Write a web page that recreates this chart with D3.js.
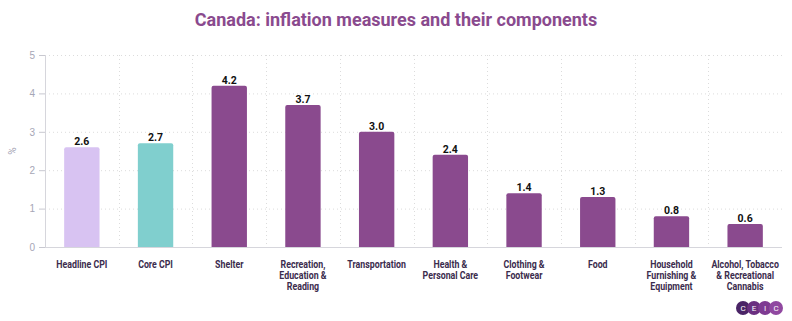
<!DOCTYPE html>
<html>
<head>
<meta charset="utf-8">
<script src="https://cdn.jsdelivr.net/npm/d3@7"></script>
<style>
  body { margin: 0; background: #fff; }
  svg { font-family: Roboto, "Noto Sans", sans-serif; }
</style>
</head>
<body>
<div id="chart"></div>
<script>
// Canada CPI components, y/y %
var categories = ["Headline CPI", "Core CPI", "Shelter", "Recreation, Education & Reading",
  "Transportation", "Health & Personal Care", "Clothing & Footwear", "Food",
  "Household Furnishing & Equipment", "Alcohol, Tobacco & Recreational Cannabis"];
var values = [2.6, 2.7, 4.2, 3.7, 3.0, 2.4, 1.4, 1.3, 0.8, 0.6];
var labelLines = [["Headline CPI"], ["Core CPI"], ["Shelter"], ["Recreation,", "Education &", "Reading"],
  ["Transportation"], ["Health &", "Personal Care"], ["Clothing &", "Footwear"], ["Food"],
  ["Household", "Furnishing &", "Equipment"], ["Alcohol, Tobacco", "& Recreational", "Cannabis"]];
var yTicks = [0, 1, 2, 3, 4, 5];

var width = 792,
    height = 321,
    margin = {top: 55, right: 10, bottom: 74, left: 45};

var svg = d3.select("#chart")
  .append("svg")
  .attr("width", width)
  .attr("height", height);

svg.append("text")
  .attr("x", 396)
  .attr("y", 26)
  .attr("text-anchor", "middle")
  .attr("font-size", 18)
  .attr("font-weight", 700)
  .attr("fill", "#8a4a8e")
  .text("Canada: inflation measures and their components");

var x = d3.scaleBand()
  .domain(categories)
  .range([margin.left, width - margin.right])
  .paddingInner(0.52)
  .paddingOuter(0.26);

var y = d3.scaleLinear()
  .domain([0, 5])
  .range([height - margin.bottom, margin.top]);

var color = function(i) { return i === 0 ? "#d8c3f2" : i === 1 ? "#80cfce" : "#8a4a8e"; };

var g = svg.append("g");

// horizontal dotted grid
g.selectAll(".hgrid")
  .data(yTicks.slice(1))
  .enter().append("line")
  .attr("x1", margin.left).attr("x2", width - margin.right)
  .attr("y1", function(d) { return y(d) + 0.5; })
  .attr("y2", function(d) { return y(d) + 0.5; })
  .attr("stroke", "#dcdcdc")
  .attr("stroke-dasharray", "1,3");

// vertical dotted grid between categories
var step = x.step();
g.selectAll(".vgrid")
  .data(categories.slice(1))
  .enter().append("line")
  .attr("x1", function(d) { return Math.round(x(d) - x.paddingOuter() * step) + 0.5; })
  .attr("x2", function(d) { return Math.round(x(d) - x.paddingOuter() * step) + 0.5; })
  .attr("y1", y(5)).attr("y2", y(0))
  .attr("stroke", "#dcdcdc")
  .attr("stroke-dasharray", "1,3");

// y axis
var yAxis = g.append("g")
  .attr("transform", "translate(" + margin.left + ",0)")
  .call(d3.axisLeft(y).tickValues(yTicks).tickFormat(d3.format("d")).tickSize(6).tickPadding(4));
yAxis.select(".domain").attr("stroke", "#d6d6dc");
yAxis.selectAll(".tick line").attr("stroke", "#c8c8d0");
yAxis.selectAll(".tick text").attr("fill", "#a6a6b6").attr("font-size", 10);

// baseline
g.append("line")
  .attr("x1", margin.left).attr("x2", width - margin.right)
  .attr("y1", y(0) + 0.5).attr("y2", y(0) + 0.5)
  .attr("stroke", "#d6d6dc");

svg.append("text")
  .attr("transform", "translate(16," + y(2.5) + ") rotate(-90)")
  .attr("text-anchor", "middle")
  .attr("font-size", 10)
  .attr("fill", "#a6a6b6")
  .text("%");

// bars
g.selectAll(".bar")
  .data(values)
  .enter().append("path")
  .attr("d", function(d, i) {
    var x0 = x(categories[i]), w = x.bandwidth(), top = y(d), bot = y(0), r = 2;
    return "M" + x0 + "," + bot + "V" + (top + r) + "Q" + x0 + "," + top + " " + (x0 + r) + "," + top +
      "H" + (x0 + w - r) + "Q" + (x0 + w) + "," + top + " " + (x0 + w) + "," + (top + r) + "V" + bot + "Z";
  })
  .attr("fill", function(d, i) { return color(i); });

// value labels
g.selectAll(".val")
  .data(values)
  .enter().append("text")
  .attr("x", function(d, i) { return x(categories[i]) + x.bandwidth() / 2; })
  .attr("y", function(d) { return y(d) - 2; })
  .attr("text-anchor", "middle")
  .attr("font-size", 10.5)
  .attr("font-weight", 700)
  .attr("fill", "#111")
  .text(function(d) { return d.toFixed(1); });

// category labels (narrowed to look condensed)
var cat = g.selectAll(".cat")
  .data(labelLines)
  .enter().append("text")
  .attr("text-anchor", "middle")
  .attr("font-size", 10)
  .attr("font-weight", 700)
  .attr("fill", "#3b2c4d")
  .attr("transform", function(d, i) {
    return "translate(" + (x(categories[i]) + x.bandwidth() / 2) + "," + (y(0) + 21) + ") scale(0.88,1)";
  });
cat.selectAll("tspan")
  .data(function(d) { return d; })
  .enter().append("tspan")
  .attr("x", 0)
  .attr("dy", function(d, j) { return j === 0 ? 0 : 11; })
  .text(function(d) { return d; });

// CEIC badge
var logo = svg.append("g").attr("transform", "translate(743,308)");
var letters = ["C", "E", "I", "C"],
    logoCols = ["#4a2466", "#6a2f80", "#7e3a92", "#9048a0"];
logo.selectAll("circle")
  .data(letters)
  .enter().append("circle")
  .attr("cx", function(d, i) { return i * 11; })
  .attr("cy", 0)
  .attr("r", 7)
  .attr("fill", function(d, i) { return logoCols[i]; });
logo.selectAll("text")
  .data(letters)
  .enter().append("text")
  .attr("x", function(d, i) { return i * 11; })
  .attr("y", 3)
  .attr("text-anchor", "middle")
  .attr("font-size", 8)
  .attr("fill", "#fff")
  .text(function(d) { return d; });
</script>
</body>
</html>
